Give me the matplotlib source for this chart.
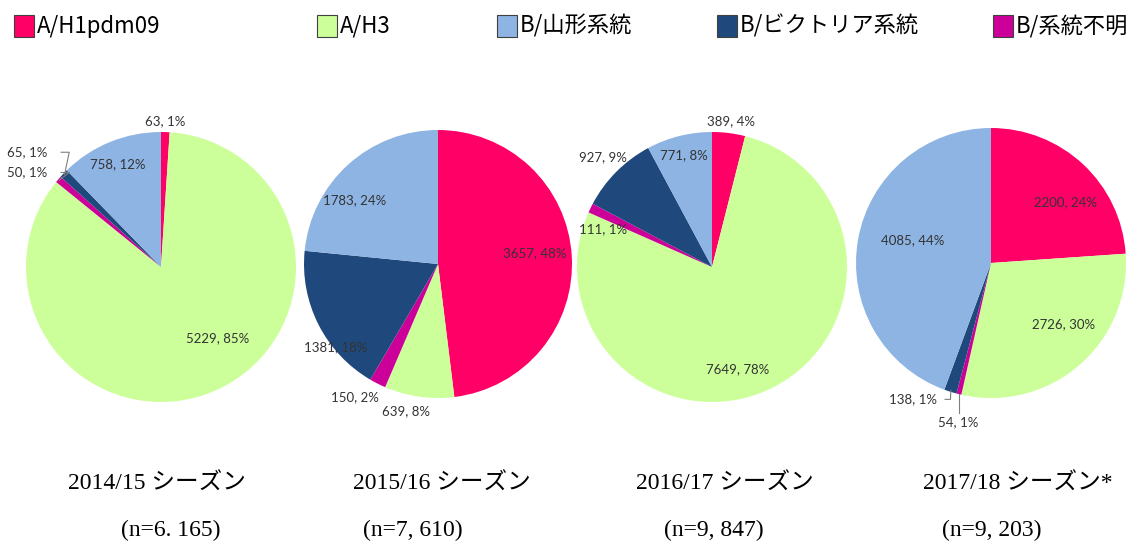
import matplotlib
matplotlib.use("Agg")
import matplotlib.pyplot as plt
import numpy as np
from matplotlib.patches import Rectangle

plt.rcParams['font.family'] = ['Noto Sans CJK JP', 'DejaVu Sans']

# data
subtypes = ["A/H1pdm09", "A/H3", "B/系統不明", "B/ビクトリア系統", "B/山形系統"]
legend_order = [0, 1, 4, 3, 2]
colors = ["#FF0066", "#CCFF99", "#CC0099", "#1F497D", "#8EB4E3"]

season_names = ["2014/15 シーズン", "2015/16 シーズン", "2016/17 シーズン", "2017/18 シーズン*"]
n_labels = ["(n=6. 165)", "(n=7, 610)", "(n=9, 847)", "(n=9, 203)"]

counts_1415 = [63, 5229, 50, 65, 758]
counts_1516 = [3657, 639, 150, 1381, 1783]
counts_1617 = [389, 7649, 111, 927, 771]
counts_1718 = [2200, 2726, 54, 138, 4085]
pct_1415 = [1, 85, 1, 1, 12]
pct_1516 = [48, 8, 2, 18, 24]
pct_1617 = [4, 78, 1, 9, 8]
pct_1718 = [24, 30, 1, 1, 44]

all_counts = [counts_1415, counts_1516, counts_1617, counts_1718]
all_pcts = [pct_1415, pct_1516, pct_1617, pct_1718]

# layout (pixels): pie centre and radius
W, H = 1138, 544
centres = [(161, 267, 135), (438, 264, 134), (712, 267, 135), (991, 263, 135)]
# label positions in radius units relative to centre
label_pos = [
    [(0.03, 1.08), (0.42, -0.53), (-0.99, 0.70), (-0.99, 0.85), (-0.32, 0.76)],
    [(0.72, 0.08), (-0.24, -1.10), (-0.62, -0.99), (-0.76, -0.62), (-0.62, 0.48)],
    [(0.14, 1.08), (0.19, -0.76), (-0.81, 0.28), (-0.81, 0.81), (-0.21, 0.83)],
    [(0.55, 0.45), (0.54, -0.45), (-0.24, -1.18), (-0.58, -1.01), (-0.58, 0.17)],
]
# small slices with leader lines: (pie, slice)
leaders = {(0, 2), (0, 3), (3, 2), (3, 3)}
title_x = [157, 442, 725, 1018]
n_x = [171, 413, 714, 992]

fig = plt.figure(figsize=(W / 100, H / 100), dpi=100)

for i, (cx, cy, r) in enumerate(centres):
    ax = fig.add_axes([(cx - 1.3 * r) / W, (H - cy - 1.3 * r) / H, 2.6 * r / W, 2.6 * r / H])
    wedges, _ = ax.pie(all_counts[i], colors=colors, startangle=90, counterclock=False,
                       radius=1, wedgeprops=dict(linewidth=0))
    ax.set_xlim(-1.3, 1.3)
    ax.set_ylim(-1.3, 1.3)
    ax.set_aspect('equal')
    ax.axis('off')
    for j, w in enumerate(wedges):
        lx, ly = label_pos[i][j]
        txt = f"{all_counts[i][j]}, {all_pcts[i][j]}%"
        ax.text(lx, ly, txt, ha='center', va='center', fontsize=9.5,
                family=['Lato', 'DejaVu Sans'], color='#333333')
        if (i, j) in leaders:
            mid = np.deg2rad((w.theta1 + w.theta2) / 2)
            ex, ey = np.cos(mid), np.sin(mid)
            if i == 0:
                sx = lx + 0.25
                ax.plot([sx, sx + 0.06, ex * 0.99], [ly, ly, ey * 0.99], color='#7f7f7f', lw=0.8)
            elif j == 2:
                ax.plot([ex, ex], [ey, ly + 0.07], color='#7f7f7f', lw=0.8)
            else:
                sx = lx + 0.24
                ax.plot([sx, sx + 0.04, ex * 0.99], [ly, ly, ey * 0.99], color='#7f7f7f', lw=0.8)

    fig.text(title_x[i] / W, 1 - 484 / H, season_names[i], ha='center', va='center',
             fontsize=17, family=['Liberation Serif', 'Noto Sans CJK JP'])
    fig.text(n_x[i] / W, 1 - 530 / H, n_labels[i], ha='center', va='center',
             fontsize=17, family=['Liberation Serif', 'Noto Sans CJK JP'])

# legend
legend_x = [14, 317, 497, 717, 993]
for k, idx in enumerate(legend_order):
    x0 = legend_x[k]
    fig.patches.append(Rectangle((x0 / W, 1 - 37 / H), 20 / W, 22 / H, transform=fig.transFigure,
                                 facecolor=colors[idx], edgecolor='#404040', lw=0.8))
    fig.text((x0 + 23) / W, 1 - 26 / H, subtypes[idx], ha='left', va='center', fontsize=16)

fig.savefig("out.png", dpi=100)
